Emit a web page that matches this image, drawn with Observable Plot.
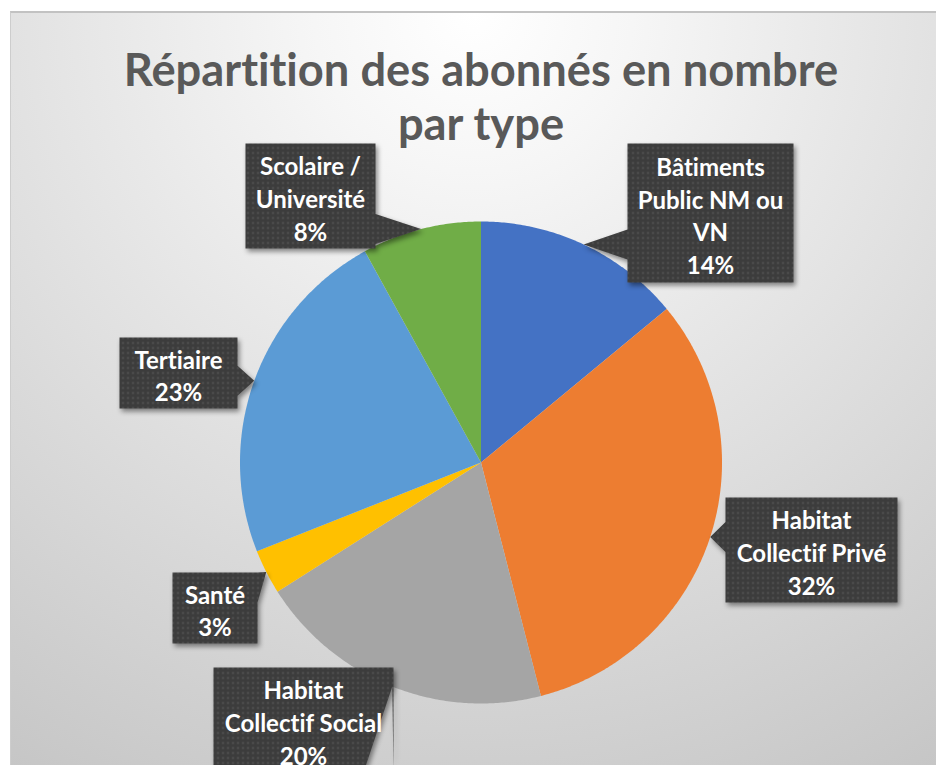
<!DOCTYPE html>
<html><head><meta charset="utf-8">
<script src="https://cdn.jsdelivr.net/npm/d3@7"></script>
<script src="https://cdn.jsdelivr.net/npm/@observablehq/plot@0.6"></script>
<style>
html,body{margin:0;padding:0;background:#fff;width:936px;height:765px;overflow:hidden}
#bg{position:absolute;left:10px;top:11px;right:0;bottom:0;
  background:radial-gradient(circle farthest-corner at 50% 0%, #ffffff 0%, #f6f6f6 18%, #c6c6c6 100%);
  border-top:2px solid #c2c2c2;border-left:1px solid #cdcdcd}
#chart{position:absolute;left:0;top:0}
svg text{font-variant-ligatures:none;font-feature-settings:"liga" 0,"clig" 0}
</style></head><body>
<div id="bg"></div><div id="chart"></div>
<script>
// ---- data ----
const title = "Répartition des abonnés en nombre\npar type";
const categories = ["Bâtiments Public NM ou VN", "Habitat Collectif Privé", "Habitat Collectif Social", "Santé", "Tertiaire", "Scolaire / Université"];
const values = [14, 32, 20, 3, 23, 8];
const wrappedNames = ["Bâtiments\nPublic NM ou\nVN", "Habitat\nCollectif Privé", "Habitat\nCollectif Social", "Santé", "Tertiaire", "Scolaire /\nUniversité"];
const colors = ["#4472C4", "#ED7D31", "#A5A5A5", "#FFC000", "#5B9BD5", "#70AD47"];

// ---- layout (pixels) ----
const W = 936, H = 765, cx = 480.5, cy = 462, R = 241;
// label box centre offsets from pie centre, box sizes
const labelLayout = [
  {dx: 229.5, dy: -249.5, w: 166, h: 139},
  {dx: 330.5, dy: 87.5, w: 172, h: 105},
  {dx: -177.5, dy: 257.5, w: 180, h: 105},
  {dx: -266, dy: 145.5, w: 85, h: 71},
  {dx: -302.5, dy: -89.5, w: 118, h: 71},
  {dx: -170.5, dy: -266.5, w: 130, h: 105}
];

const total = d3.sum(values);
const cum = [0, ...d3.cumsum(values)];
const slicePts = [];
categories.forEach((c, i) => {
  const a0 = cum[i] / total * 2 * Math.PI, a1 = cum[i + 1] / total * 2 * Math.PI;
  const n = Math.max(2, Math.ceil((a1 - a0) / (Math.PI / 360)));
  slicePts.push({cat: c, x: 0, y: 0});
  for (let k = 0; k <= n; k++) {
    const a = a0 + (a1 - a0) * k / n;
    slicePts.push({cat: c, x: Math.sin(a), y: Math.cos(a)});
  }
  slicePts.push({cat: c, x: 0, y: 0});
});

// callouts (in pie units: y up)
const u = p => p / R;
const calloutPts = [];
const labelData = [];
categories.forEach((c, i) => {
  const L = labelLayout[i];
  const mid = (cum[i] + values[i] / 2) / total * 2 * Math.PI;
  const tx = Math.sin(mid), ty = Math.cos(mid);
  const bx = u(L.dx), by = -u(L.dy), hw = u(L.w / 2), hh = u(L.h / 2);
  const x0 = bx - hw, x1 = bx + hw, y0 = by - hh, y1 = by + hh; // y0 bottom, y1 top
  const half = u(15);
  const clamp = (v, lo, hi) => Math.max(lo, Math.min(hi, v));
  let pts;
  if (tx > x1) {
    const m = clamp(ty, y0 + half, y1 - half);
    pts = [[x0, y1], [x1, y1], [x1, m + half], [tx, ty], [x1, m - half], [x1, y0], [x0, y0]];
  } else if (tx < x0) {
    const m = clamp(ty, y0 + half, y1 - half);
    pts = [[x0, y1], [x1, y1], [x1, y0], [x0, y0], [x0, m - half], [tx, ty], [x0, m + half]];
  } else if (ty > y1) {
    const m = clamp(tx, x0 + half, x1 - half);
    pts = [[x0, y1], [m - half, y1], [tx, ty], [m + half, y1], [x1, y1], [x1, y0], [x0, y0]];
  } else {
    const m = clamp(tx, x0 + half, x1 - half);
    pts = [[x0, y1], [x1, y1], [x1, y0], [m + half, y0], [tx, ty], [m - half, y0], [x0, y0]];
  }
  pts.push(pts[0]);
  pts.forEach(([x, y]) => calloutPts.push({id: c, x, y}));
  labelData.push({x: bx, y: by - u(1.5), text: wrappedNames[i] + "\n" + values[i] + "%"});
});

// title sizing
const ctx = document.createElement("canvas").getContext("2d");
ctx.font = "bold 40px Lato";
const tw = ctx.measureText(title.split("\n")[0]).width;
const tfs = 40 * 716 / tw;

const plot = Plot.plot({
  width: W, height: H, margin: 0,
  style: {background: "transparent", overflow: "visible"},
  x: {domain: [-1, 1], range: [cx - R, cx + R], axis: null},
  y: {domain: [-1, 1], range: [cy + R, cy - R], axis: null},
  color: {domain: categories, range: colors},
  marks: [
    Plot.line(slicePts, {x: "x", y: "y", z: "cat", fill: "cat", stroke: "none", curve: "linear"}),
    Plot.line(calloutPts, {x: "x", y: "y", z: "id", fill: "url(#dots)", stroke: "none", curve: "linear"}),
    Plot.text(labelData, {x: "x", y: "y", text: "text", fill: "white", fontWeight: "bold", fontSize: 24, lineHeight: 1.36, fontFamily: "Lato"}),
    Plot.text([title], {x: () => 0, frameAnchor: "top", lineAnchor: "top", text: d => d, dy: 79 - 0.71 * tfs, fontSize: tfs, lineHeight: 54 / tfs, fontWeight: "bold", fill: "#595959", fontFamily: "Lato"})
  ]
});
const svg = d3.select(plot);
const defs = svg.insert("defs", ":first-child");
const pat = defs.append("pattern").attr("id", "dots").attr("patternUnits", "userSpaceOnUse").attr("width", 5).attr("height", 5);
pat.append("rect").attr("width", 5).attr("height", 5).attr("fill", "#3c3c3c");
pat.append("circle").attr("cx", 2.5).attr("cy", 2.5).attr("r", 0.9).attr("fill", "#5a5a5a");
svg.selectAll('[fill="url(#dots)"]').style("filter", "drop-shadow(2px 3px 2.5px rgba(0,0,0,0.45))");
document.getElementById("chart").appendChild(plot);
</script>
</body></html>
